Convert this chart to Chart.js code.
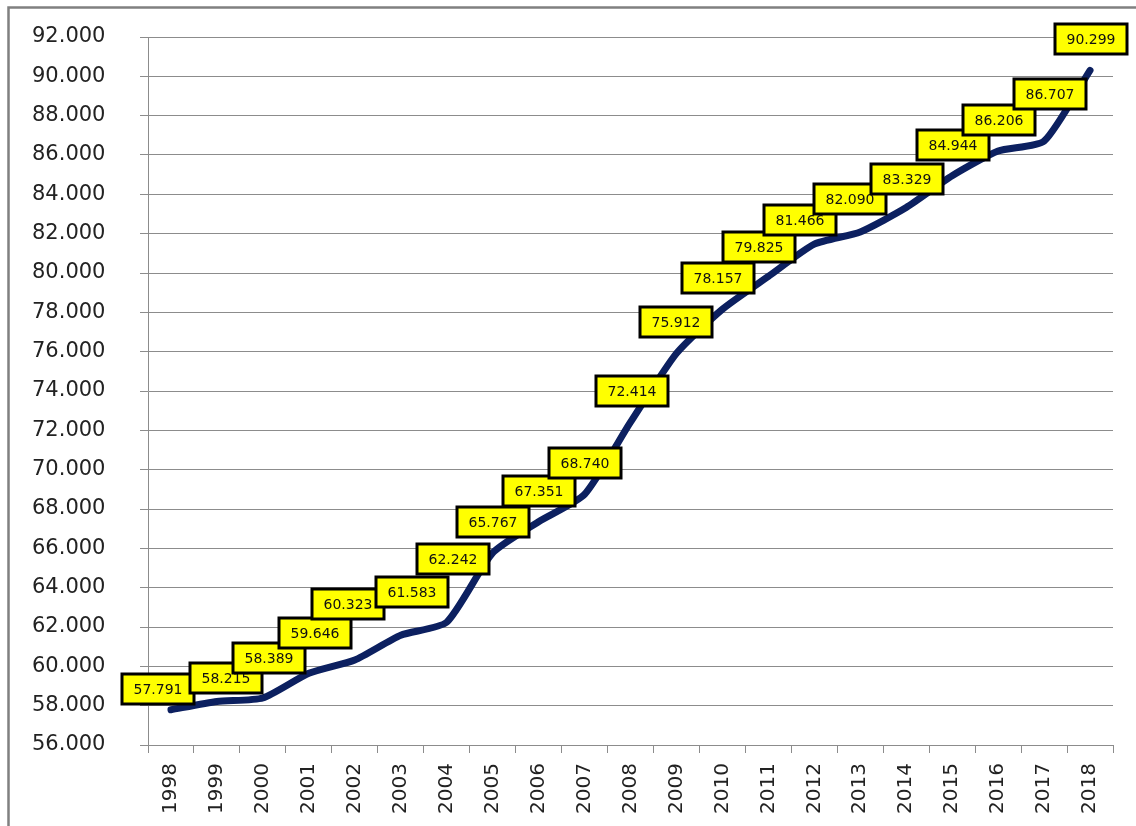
<!DOCTYPE html>
<html>
<head>
<meta charset="utf-8">
<script src="https://cdn.jsdelivr.net/npm/chart.js@4"></script>
<style>
  body { margin: 0; background: #fff; }
  canvas { display: block; }
</style>
</head>
<body>
<canvas id="chart" width="1136" height="826"></canvas>
<script>
// donnees
const years = ['1998', '1999', '2000', '2001', '2002', '2003', '2004', '2005', '2006', '2007',
  '2008', '2009', '2010', '2011', '2012', '2013', '2014', '2015', '2016', '2017', '2018'];
const values = [57791, 58215, 58389, 59646, 60323, 61583, 62242, 65767, 67351, 68740,
  72414, 75912, 78157, 79825, 81466, 82090, 83329, 84944, 86206, 86707, 90299];
const yMin = 56000;
const yMax = 92000;
const yStep = 2000;

// petits decalages des etiquettes (comme deplacees a la main dans l'original)
const labelNudge = [[-13, 10], [9, 8], [6, -9], [6, -9], [-7, -25], [11, -12], [6, -32],
  [0, 0], [0, 0], [0, 0], [1, 0], [0, 0], [-4, 0], [-9, 2], [-14, 7], [-10, -2], [1, 2],
  [1, 0], [1, 0], [6, -16], [1, 0]];

const fmt = v => (v / 1000).toFixed(3);
const gridColor = '#8c8c8c';

// fond blanc + cadre gris exterieur
const frame = {
  id: 'frame',
  beforeDraw(chart) {
    const ctx = chart.ctx;
    ctx.save();
    ctx.fillStyle = '#fff';
    ctx.fillRect(0, 0, chart.width, chart.height);
    ctx.strokeStyle = '#808080';
    ctx.lineWidth = 2.5;
    ctx.beginPath();
    ctx.moveTo(8.5, chart.height);
    ctx.lineTo(8.5, 7.5);
    ctx.lineTo(chart.width, 7.5);
    ctx.stroke();
    ctx.restore();
  }
};

// etiquettes jaunes
const labelBoxes = {
  id: 'labelBoxes',
  afterDatasetsDraw(chart) {
    const ctx = chart.ctx;
    const meta = chart.getDatasetMeta(0);
    ctx.save();
    ctx.font = '14px "DejaVu Sans"';
    ctx.textAlign = 'center';
    ctx.textBaseline = 'middle';
    meta.data.forEach((pt, i) => {
      const n = labelNudge[i] || [0, 0];
      const cx = Math.round(pt.x + n[0]);
      const cy = Math.round(pt.y - 31 + n[1]);
      ctx.fillStyle = '#ffff00';
      ctx.fillRect(cx - 36, cy - 15, 72, 30);
      ctx.lineWidth = 3;
      ctx.strokeStyle = '#000';
      ctx.strokeRect(cx - 36, cy - 15, 72, 30);
      ctx.fillStyle = '#111';
      ctx.fillText(fmt(values[i]), cx, cy + 1);
    });
    ctx.restore();
  }
};

const ctx = document.getElementById('chart').getContext('2d');
const chart = new Chart(ctx, {
  type: 'line',
  data: {
    labels: years,
    datasets: [{
      data: values,
      borderColor: '#0c2060',
      borderWidth: 7,
      borderCapStyle: 'round',
      borderJoinStyle: 'round',
      pointRadius: 0,
      tension: 0.2,
      fill: false
    }]
  },
  options: {
    responsive: false,
    animation: false,
    layout: { autoPadding: false, padding: { top: 37, right: 23, left: 32, bottom: 0 } },
    plugins: {
      legend: { display: false },
      tooltip: { enabled: false }
    },
    scales: {
      x: {
        offset: true,
        grid: {
          offset: true,
          drawOnChartArea: false,
          drawTicks: true,
          tickLength: 8,
          color: gridColor
        },
        border: { color: gridColor },
        ticks: {
          minRotation: 90,
          maxRotation: 90,
          autoSkip: false,
          padding: 10,
          color: '#222',
          font: { family: 'DejaVu Sans', size: 20 }
        },
        afterFit(scale) { scale.height = 81; }
      },
      y: {
        min: yMin,
        max: yMax,
        grid: { color: gridColor, tickLength: 8 },
        border: { color: gridColor },
        ticks: {
          stepSize: yStep,
          padding: 3,
          crossAlign: 'far',
          color: '#222',
          font: { family: 'DejaVu Sans', size: 21 },
          callback: v => fmt(v)
        },
        afterFit(scale) { scale.width = 116; }
      }
    }
  },
  plugins: [frame, labelBoxes]
});
</script>
</body>
</html>
